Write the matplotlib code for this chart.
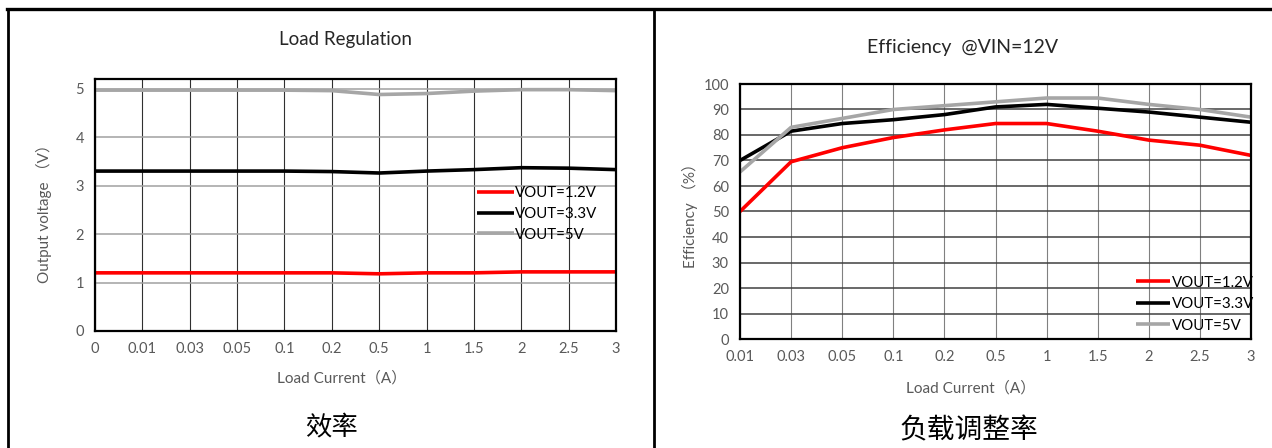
import numpy as np
import matplotlib.pyplot as plt
from matplotlib.lines import Line2D

plt.rcParams['font.family'] = ['Lato', 'Noto Sans CJK SC', 'DejaVu Sans']

# ---------------- data ----------------
reg_labels = ['0', '0.01', '0.03', '0.05', '0.1', '0.2', '0.5', '1', '1.5', '2', '2.5', '3']
reg_v12 = [1.20, 1.20, 1.20, 1.20, 1.20, 1.20, 1.18, 1.20, 1.20, 1.22, 1.22, 1.22]
reg_v33 = [3.30, 3.30, 3.30, 3.30, 3.30, 3.29, 3.26, 3.30, 3.33, 3.37, 3.36, 3.33]
reg_v50 = [4.97, 4.97, 4.97, 4.97, 4.97, 4.96, 4.88, 4.90, 4.95, 4.98, 4.98, 4.96]

eff_labels = ['0.01', '0.03', '0.05', '0.1', '0.2', '0.5', '1', '1.5', '2', '2.5', '3']
eff_v12 = [50, 69.5, 75, 79, 82, 84.5, 84.5, 81.5, 78, 76, 72]
eff_v33 = [70, 81.5, 84.5, 86, 88, 91, 92, 90.5, 89, 87, 85]
eff_v50 = [65.5, 83, 86.5, 90, 91.5, 93, 94.5, 94.5, 92, 90, 87]

series_names = ['VOUT=1.2V', 'VOUT=3.3V', 'VOUT=5V']
colors = ['#ff0000', '#000000', '#a6a6a6']

W, H = 1272, 448
fig = plt.figure(figsize=(W / 100, H / 100), dpi=100)


def px_axes(left, top, right, bottom):
    return fig.add_axes([left / W, 1 - bottom / H, (right - left) / W, (bottom - top) / H])


def style(ax, hgrid, vgrid):
    for s in ax.spines.values():
        s.set_linewidth(1.6)
        s.set_color('black')
    ax.tick_params(length=0, labelsize=10.5, colors='#595959', pad=8)
    ax.yaxis.grid(True, color=hgrid, linewidth=1.1)
    ax.xaxis.grid(True, color=vgrid, linewidth=0.8)
    ax.set_axisbelow(True)


# ---------------- table frame ----------------
fig.add_artist(Line2D([7 / W, 1], [1 - 9 / H, 1 - 9 / H], color='black', lw=2.4))
fig.add_artist(Line2D([8 / W, 8 / W], [0, 1 - 9 / H], color='black', lw=2.0))
fig.add_artist(Line2D([654 / W, 654 / W], [0, 1 - 9 / H], color='black', lw=2.0))

# ---------------- left: load regulation ----------------
ax1 = px_axes(95, 79, 616, 331)
x1 = np.arange(len(reg_labels))
for vals, c, n in zip([reg_v12, reg_v33, reg_v50], colors, series_names):
    ax1.plot(x1, vals, color=c, lw=2.6, label=n, solid_capstyle='butt')
ax1.set_xlim(0, len(reg_labels) - 1)
ax1.set_ylim(0, 5.2)
ax1.set_yticks(range(6))
ax1.set_xticks(x1)
ax1.set_xticklabels(reg_labels)
style(ax1, '#a0a0a0', '#303030')
ax1.legend(loc='center left', bbox_to_anchor=(470 / W, 1 - 214 / H),
           bbox_transform=fig.transFigure, frameon=False, fontsize=10.8,
           handlelength=2.4, handletextpad=0.1, labelspacing=0.45, borderpad=0)

fig.text(345 / W, 1 - 40 / H, 'Load Regulation', ha='center', va='center',
         fontsize=13.5, color='#262626')
fig.text(342 / W, 1 - 378 / H, 'Load Current（A）', ha='center', va='center',
         fontsize=11, color='#595959')
fig.text(44 / W, 1 - 210 / H, 'Output voltage （V）', ha='center', va='center',
         rotation=90, fontsize=11, color='#595959')
fig.text(331 / W, 1 - 427 / H, '效率', ha='center', va='center',
         fontsize=19, family=['Noto Sans CJK SC'], color='black')

# ---------------- right: efficiency ----------------
ax2 = px_axes(740, 84, 1251, 339)
x2 = np.arange(len(eff_labels))
for vals, c, n in zip([eff_v12, eff_v33, eff_v50], colors, series_names):
    ax2.plot(x2, vals, color=c, lw=2.6, label=n, solid_capstyle='butt')
ax2.set_xlim(0, len(eff_labels) - 1)
ax2.set_ylim(0, 100)
ax2.set_yticks(range(0, 101, 10))
ax2.set_xticks(x2)
ax2.set_xticklabels(eff_labels)
style(ax2, '#404040', '#808080')
ax2.legend(loc='center left', bbox_to_anchor=(1128 / W, 1 - 304 / H),
           bbox_transform=fig.transFigure, frameon=False, fontsize=10.8,
           handlelength=2.3, handletextpad=0.1, labelspacing=0.5, borderpad=0)

fig.text(963 / W, 1 - 47 / H, 'Efficiency  @VIN=12V', ha='center', va='center',
         fontsize=14, color='#262626')
fig.text(971 / W, 1 - 388 / H, 'Load Current（A）', ha='center', va='center',
         fontsize=11, color='#595959')
fig.text(690 / W, 1 - 212 / H, 'Efficiency （%）', ha='center', va='center',
         rotation=90, fontsize=11, color='#595959')
fig.text(969 / W, 1 - 430 / H, '负载调整率', ha='center', va='center',
         fontsize=20, family=['Noto Sans CJK SC'], color='black')

fig.savefig('out.png', dpi=100)
